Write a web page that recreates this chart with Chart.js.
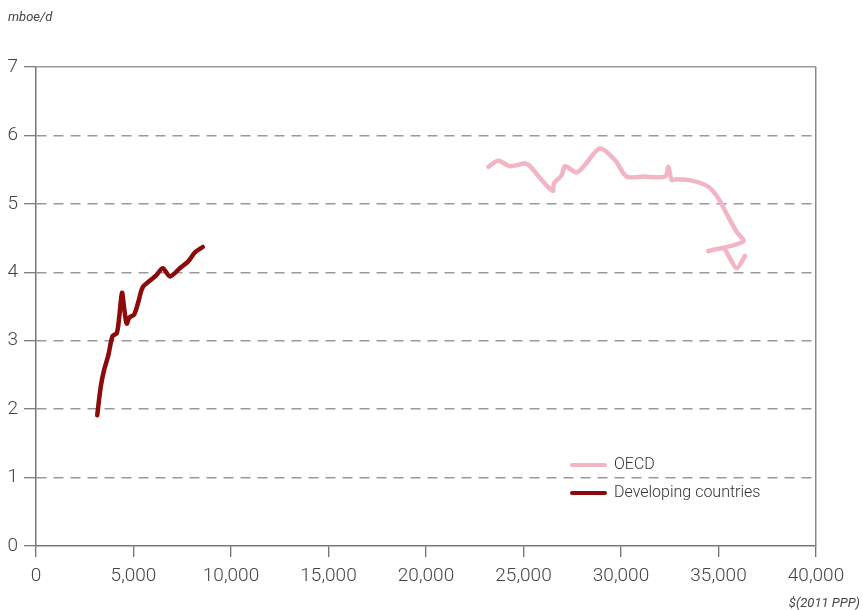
<!DOCTYPE html>
<html>
<head>
<meta charset="utf-8">
<script src="https://cdn.jsdelivr.net/npm/chart.js@4"></script>
<style>
  html, body { margin: 0; padding: 0; background: #fff; }
  #wrap { width: 863px; height: 610px; position: relative; }
</style>
</head>
<body>
<div id="wrap"><canvas id="myChart" width="863" height="610"></canvas></div>
<script>
  // GDP per capita, $(2011 PPP)
  const oecdX = [23200, 23700, 24300, 25080, 25330, 25930, 26500, 26560, 26960, 27130, 27730, 28150, 28920, 29690, 30290, 31140, 32260, 32430, 32600, 32860, 33630, 34480, 34990, 35500, 35930, 36270, 34480, 35250, 35500, 35930, 36360];
  // Oil demand, mboe/d
  const oecdY = [5.54, 5.63, 5.55, 5.59, 5.55, 5.35, 5.19, 5.30, 5.42, 5.55, 5.46, 5.57, 5.81, 5.64, 5.40, 5.40, 5.40, 5.54, 5.35, 5.36, 5.34, 5.25, 5.08, 4.81, 4.59, 4.45, 4.31, 4.35, 4.25, 4.06, 4.24];

  const devX = [3140, 3320, 3490, 3710, 3930, 4140, 4270, 4410, 4510, 4650, 4790, 5030, 5250, 5470, 5850, 6150, 6500, 6870, 7380, 7810, 8150, 8550];
  const devY = [1.91, 2.33, 2.57, 2.79, 3.07, 3.11, 3.35, 3.70, 3.50, 3.25, 3.34, 3.38, 3.57, 3.78, 3.88, 3.95, 4.06, 3.94, 4.06, 4.16, 4.29, 4.37];

  const xTicks = [0, 5000, 10000, 15000, 20000, 25000, 30000, 35000, 40000];
  const yTicks = [0, 1, 2, 3, 4, 5, 6, 7];

  const seriesNames = ['OECD', 'Developing countries'];
  const seriesColors = ['#f2b5c3', '#8c0a0a'];

  const toPoints = (xs, ys) => xs.map((x, i) => ({x: x, y: ys[i]}));

  const fontFamily = 'Roboto, "Liberation Sans", sans-serif';

  const extras = {
    id: 'extras',
    afterDraw(chart) {
      const ctx = chart.ctx;
      const a = chart.chartArea;
      ctx.save();
      // unit labels
      ctx.fillStyle = '#444';
      ctx.font = 'italic 13px ' + fontFamily;
      ctx.textAlign = 'left';
      ctx.textBaseline = 'alphabetic';
      ctx.fillText('mboe/d', 8, 21);
      ctx.textAlign = 'right';
      ctx.fillText('$(2011 PPP)', 860, 607);
      // legend
      ctx.lineWidth = 4;
      ctx.lineCap = 'round';
      ctx.font = '300 16px ' + fontFamily;
      ctx.textAlign = 'left';
      ctx.textBaseline = 'middle';
      seriesNames.forEach((name, i) => {
        const y = a.top + 398 + i * 28;
        const x = a.left + 536;
        ctx.strokeStyle = seriesColors[i];
        ctx.beginPath();
        ctx.moveTo(x, y);
        ctx.lineTo(x + 33, y);
        ctx.stroke();
        ctx.fillStyle = '#333';
        ctx.fillText(name, x + 42, y);
      });
      ctx.restore();
    }
  };

  const config = {
    type: 'scatter',
    data: {
      datasets: [
        {
          label: seriesNames[0],
          data: toPoints(oecdX, oecdY),
          showLine: true,
          borderColor: seriesColors[0],
          backgroundColor: seriesColors[0],
          borderWidth: 4.5,
          pointRadius: 0,
          tension: 0.3,
          borderCapStyle: 'round',
          borderJoinStyle: 'round'
        },
        {
          label: seriesNames[1],
          data: toPoints(devX, devY),
          showLine: true,
          borderColor: seriesColors[1],
          backgroundColor: seriesColors[1],
          borderWidth: 4.5,
          pointRadius: 0,
          tension: 0.3,
          borderCapStyle: 'round',
          borderJoinStyle: 'round'
        }
      ]
    },
    options: {
      responsive: false,
      animation: false,
      layout: { padding: { top: 67, right: 47, left: 0, bottom: 0 } },
      plugins: {
        legend: { display: false },
        tooltip: { enabled: false }
      },
      scales: {
        x: {
          type: 'linear',
          min: 0,
          max: 40000,
          afterBuildTicks: (s) => { s.ticks = xTicks.map(v => ({value: v})); },
          afterFit: (s) => { s.height = 64; },
          ticks: {
            color: '#444',
            padding: 8,
            maxRotation: 0,
            font: { family: fontFamily, size: 19, weight: '300' },
            callback: (v) => v.toLocaleString('en-US')
          },
          grid: {
            color: (c) => (c.tick && c.tick.value === 40000) ? '#888' : 'rgba(0,0,0,0)',
            lineWidth: 1.5,
            tickLength: 11,
            tickColor: '#444',
            tickWidth: 1
          },
          border: { display: true, color: '#777', width: 1.5 }
        },
        y: {
          type: 'linear',
          min: 0,
          max: 7,
          afterBuildTicks: (s) => { s.ticks = yTicks.map(v => ({value: v})); },
          afterFit: (s) => { s.width = 36; },
          ticks: {
            color: '#444',
            padding: 6,
            font: { family: fontFamily, size: 19, weight: '300' }
          },
          grid: {
            color: (c) => (c.tick && c.tick.value === 0) ? 'rgba(0,0,0,0)' : '#999',
            lineWidth: 1.5,
            tickLength: 12,
            tickColor: '#555',
            tickWidth: 1
          },
          border: {
            display: true,
            color: '#777',
            width: 1.5,
            dash: (c) => (c.tick && c.tick.value > 0 && c.tick.value < 7) ? [10, 7] : []
          }
        }
      }
    },
    plugins: [extras]
  };

  const myChart = new Chart(document.getElementById('myChart'), config);
</script>
</body>
</html>
